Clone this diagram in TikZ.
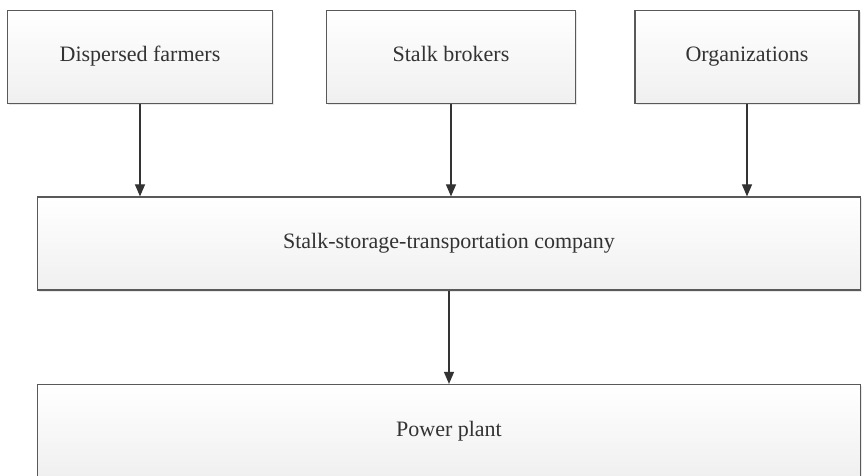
\documentclass[tikz,border=0pt]{standalone}
\usepackage{fontspec}
\setmainfont{Liberation Serif}
\usetikzlibrary{arrows.meta,positioning,shadows}
\definecolor{edge}{HTML}{595959}
\definecolor{tipc}{HTML}{333333}

\begin{document}
\begin{tikzpicture}[x=1pt,y=-1pt,>={Triangle[length=12pt,width=10pt]},
    box/.style={draw=edge,line width=1.2pt,top color=white,bottom color=gray!12,
      drop shadow={opacity=0.18,shadow xshift=1.5pt,shadow yshift=-1.5pt},
      minimum height=93pt,inner sep=0pt,align=center,text height=15pt,text depth=5pt,
      font=\fontsize{22}{26}\selectfont,text=black!80},
    flow/.style={->,draw=tipc,line width=1.2pt}]
    \useasboundingbox (0,0) rectangle (863,476);
    \node[box,minimum width=265pt] (farm) at (140,57) {Dispersed farmers};
    \node[box,minimum width=249pt] (brok) at (451,57) {Stalk brokers};
    \node[box,minimum width=224pt] (org) at (747,57) {Organizations};
    \node[box,minimum width=823pt] (comp) at (449,243.5) {Stalk-storage-transportation company};
    \node[box,minimum width=823pt] (plant) at (449,431) {Power plant};
    \foreach \x in {farm,brok,org} \draw[flow] (\x.south) -- (\x.south |- comp.north);
    \draw[flow] (comp.south) -- (plant.north);
  \end{tikzpicture}
\end{document}
